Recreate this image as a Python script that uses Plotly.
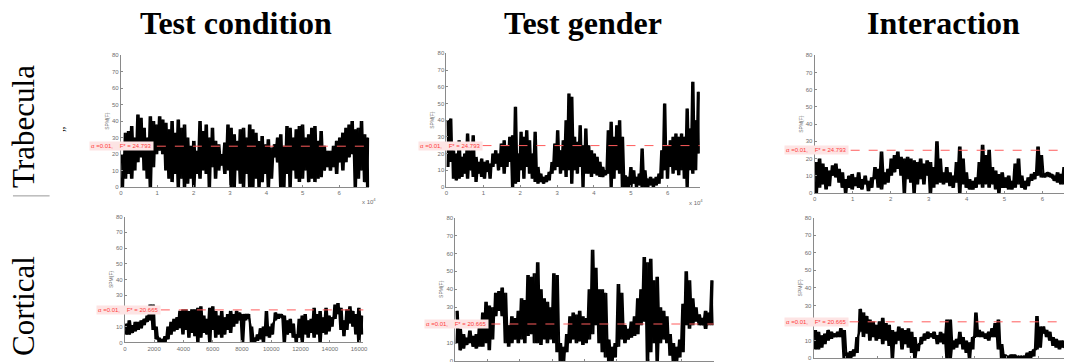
import numpy as np
import plotly.graph_objects as go

W, H = 1072, 362

# ---------------- data (envelope of SPM{F} traces) ----------------
COL_TITLES = ["Test condition", "Test gender", "Interaction"]
ROW_TITLES = ["Trabecula", "Cortical"]
FSTAR_TRAB = 24.793
FSTAR_CORT = 20.665
ALPHA_TEXT = "α =0.01,"

# Trabecula – Test condition (x up to 6.83e4 nodes)
P1_SPAN = 68300
P1_HI = [20, 33, 34, 37, 30, 44, 42, 36, 30, 43, 40, 38, 43, 41, 39, 35, 40, 33, 41, 36,
         38, 30, 25, 28, 22, 40, 34, 38, 30, 36, 28, 26, 20, 27, 38, 36, 32, 28, 35, 36,
         30, 38, 35, 33, 28, 31, 26, 29, 24, 26, 30, 32, 25, 37, 36, 30, 35, 37, 38, 30,
         32, 36, 37, 28, 34, 25, 22, 22, 25, 28, 30, 33, 36, 38, 40, 35, 36, 40, 32, 30]
P1_LO = [0, 5, 8, 5, 10, 15, 18, 10, 5, 0, 12, 20, 22, 20, 10, 5, 3, 8, 0, 5,
         0, 2, 5, 0, 8, 5, 10, 8, 0, 12, 5, 10, 13, 8, 10, 0, 0, 10, 2, 0,
         8, 0, 0, 5, 0, 3, 8, 0, 5, 18, 15, 0, 0, 8, 0, 10, 5, 3, 5, 10,
         3, 5, 3, 5, 6, 10, 12, 10, 12, 8, 15, 10, 15, 18, 20, 0, 5, 10, 3, 0]

# Trabecula – Test gender
P2_SPAN = 68700
P2_HI = [40, 41, 22, 20, 28, 18, 20, 32, 22, 31, 18, 15, 17, 15, 16, 14, 20, 22, 20, 26,
         28, 25, 30, 31, 48, 20, 33, 30, 34, 28, 20, 33, 12, 8, 6, 7, 9, 15, 26, 34,
         22, 28, 40, 56, 54, 30, 27, 37, 25, 35, 25, 22, 20, 18, 15, 12, 10, 34, 39, 30,
         37, 40, 30, 7, 6, 12, 10, 6, 8, 23, 10, 5, 6, 5, 6, 8, 22, 50, 25, 28,
         30, 32, 30, 32, 30, 47, 35, 63, 40, 57]
P2_LO = [12, 15, 5, 4, 5, 6, 8, 5, 10, 6, 3, 8, 6, 5, 9, 5, 12, 14, 10, 12,
         8, 12, 15, 0, 2, 3, 10, 5, 12, 8, 5, 3, 2, 3, 2, 3, 4, 8, 10, 12,
         8, 10, 6, 10, 2, 10, 8, 12, 0, 8, 8, 6, 8, 7, 6, 6, 7, 8, 0, 5,
         10, 8, 0, 0, 0, 0, 2, 0, 1, 0, 0, 0, 1, 0, 1, 2, 5, 10, 5, 12,
         8, 10, 7, 10, 5, 0, 10, 8, 10, 20]

# Trabecula – Interaction
P3_SPAN = 68700
P3_HI = [18, 20, 17, 15, 13, 16, 17, 14, 12, 8, 10, 11, 9, 12, 8, 10, 7, 9, 15, 14,
         24, 12, 14, 20, 22, 24, 21, 20, 21, 20, 19, 18, 20, 17, 19, 18, 15, 30, 20, 12,
         15, 12, 10, 18, 27, 20, 12, 8, 7, 9, 18, 28, 22, 25, 15, 13, 11, 12, 9, 10,
         7, 17, 20, 10, 7, 9, 11, 12, 27, 22, 11, 12, 11, 10, 12, 11, 15, 27, 22, 20]
P3_LO = [0, 3, 5, 2, 4, 10, 9, 6, 3, 0, 3, 2, 4, 3, 2, 5, 1, 3, 8, 3,
         2, 5, 6, 10, 12, 14, 10, 0, 8, 6, 0, 5, 8, 5, 10, 0, 3, 5, 6, 5,
         6, 4, 3, 6, 0, 5, 3, 2, 2, 3, 5, 3, 5, 3, 5, 2, 0, 3, 3, 2,
         2, 3, 5, 3, 2, 4, 7, 8, 10, 9, 9, 10, 9, 7, 6, 5, 5, 8, 10, 8]

# Cortical – Test condition
P4_SPAN = 16290
P4_HI = [12, 14, 11, 13, 13, 14, 15, 17, 24, 24, 10, 3, 2, 4, 10, 13, 15, 16, 20, 21,
         21, 20, 21, 21, 22, 23, 17, 15, 22, 23, 20, 17, 20, 16, 18, 20, 18, 20, 19, 18,
         18, 18, 10, 3, 5, 9, 10, 20, 10, 12, 19, 18, 18, 17, 14, 15, 12, 5, 15, 17,
         18, 14, 15, 22, 18, 20, 16, 22, 17, 16, 24, 25, 22, 14, 21, 23, 20, 18, 22, 17]
P4_LO = [5, 5, 6, 7, 8, 9, 11, 13, 14, 8, 2, 0, 0, 0, 2, 5, 7, 8, 9, 5,
         8, 3, 6, 4, 0, 3, 6, 5, 0, 8, 3, 5, 3, 5, 8, 6, 10, 12, 14, 0,
         14, 15, 0, 0, 1, 2, 0, 4, 3, 5, 14, 15, 16, 0, 5, 6, 3, 0, 3, 0,
         5, 3, 6, 3, 5, 0, 6, 5, 7, 10, 15, 18, 8, 4, 8, 12, 10, 5, 0, 5]

# Cortical – Test gender
P5_SPAN = 16000
P5_HI = [28, 18, 15, 13, 17, 14, 15, 20, 27, 33, 31, 30, 38, 39, 41, 38, 20, 25, 24, 28,
         35, 34, 48, 47, 49, 55, 40, 35, 33, 30, 49, 48, 10, 8, 15, 25, 27, 26, 28, 25,
         24, 40, 62, 52, 40, 40, 38, 12, 8, 10, 43, 38, 20, 18, 22, 25, 35, 40, 58, 55,
         57, 45, 47, 30, 28, 25, 15, 10, 8, 12, 32, 50, 45, 35, 30, 26, 24, 28, 27, 45]
P5_LO = [10, 6, 7, 9, 10, 8, 7, 8, 8, 10, 6, 12, 25, 28, 25, 10, 8, 10, 12, 10,
         12, 10, 14, 15, 10, 10, 9, 12, 10, 12, 10, 5, 0, 0, 5, 10, 12, 10, 11, 9,
         10, 12, 15, 20, 10, 5, 2, 0, 0, 2, 8, 12, 10, 12, 13, 14, 15, 20, 22, 0,
         5, 10, 0, 10, 12, 10, 3, 0, 0, 2, 5, 20, 18, 20, 22, 20, 20, 18, 20, 20]

# Cortical – Interaction
P6_SPAN = 16400
P6_HI = [16, 15, 13, 14, 16, 15, 14, 15, 17, 16, 3, 4, 5, 12, 28, 26, 24, 22, 21, 19,
         21, 23, 20, 19, 16, 15, 18, 17, 16, 17, 15, 12, 8, 12, 14, 15, 14, 15, 13, 15,
         14, 22, 22, 10, 11, 15, 12, 10, 9, 12, 26, 16, 15, 14, 15, 17, 20, 22, 8, 2,
         1, 2, 2, 1, 1, 1, 3, 4, 5, 24, 18, 18, 16, 15, 12, 11, 10, 10, 9, 11, 10, 9]
P6_LO = [5, 5, 6, 8, 10, 11, 12, 12, 12, 0, 0, 0, 1, 3, 15, 12, 14, 10, 12, 10,
         11, 8, 10, 7, 0, 8, 10, 5, 8, 6, 3, 0, 4, 8, 10, 11, 12, 11, 8, 9,
         8, 0, 0, 5, 6, 8, 5, 3, 0, 5, 12, 12, 12, 11, 10, 12, 12, 5, 0, 0,
         0, 0, 0, 0, 0, 0, 0, 0, 1, 5, 6, 14, 12, 10, 7, 6, 5, 6, 5, 4, 5, 5]

TOP_TICKVALS = [0, 10000, 20000, 30000, 40000, 50000, 60000]
TOP_TICKTEXT = ["0", "1", "2", "3", "4", "5", "6"]
BOT_TICKVALS = [0, 2000, 4000, 6000, 8000, 10000, 12000, 14000, 16000]
BOT_TICKTEXT = [str(v) for v in BOT_TICKVALS]
Y_TICKVALS = [0, 10, 20, 30, 40, 50, 60, 70, 80]

# ---------------- layout geometry (pixels) ----------------
def fx(p):
    return p / W

def fy(p):
    return 1 - p / H

panels = [
    dict(hi=P1_HI, lo=P1_LO, span=P1_SPAN, l=112, r=363, t=45, b=179, xmax=68300, top=True, f=FSTAR_TRAB, lab=80),
    dict(hi=P2_HI, lo=P2_LO, span=P2_SPAN, l=441, r=697, t=43, b=179, xmax=68700, top=True, f=FSTAR_TRAB, lab=412),
    dict(hi=P3_HI, lo=P3_LO, span=P3_SPAN, l=813, r=1072, t=45, b=185, xmax=67500, top=True, f=FSTAR_TRAB, lab=782),
    dict(hi=P4_HI, lo=P4_LO, span=P4_SPAN, l=116, r=357, t=209, b=337, xmax=16290, top=False, f=FSTAR_CORT, lab=87),
    dict(hi=P5_HI, lo=P5_LO, span=P5_SPAN, l=450, r=711, t=210, b=356, xmax=16000, top=False, f=FSTAR_CORT, lab=418),
    dict(hi=P6_HI, lo=P6_LO, span=P6_SPAN, l=812, r=1072, t=210, b=353, xmax=16018, top=False, f=FSTAR_CORT, lab=782),
]

fig = go.Figure()
AXC = "#8a8a8a"
TICKC = "#6e6e6e"

for k, p in enumerate(panels, start=1):
    n = len(p["hi"])
    hi = np.asarray(p["hi"], dtype=float)
    lo = np.asarray(p["lo"], dtype=float)
    xa_ = (np.arange(n) + 0.25) / n * p["span"]
    xb_ = (np.arange(n) + 0.75) / n * p["span"]
    xs = np.empty(2 * n)
    xs[0::2] = xa_
    xs[1::2] = xb_
    sfx = "" if k == 1 else str(k)
    # two interleaved zig-zags through the read envelope (hi/lo) give the dense look
    for first, second in ((hi, lo), (lo, hi)):
        ys = np.empty(2 * n)
        ys[0::2] = first
        ys[1::2] = second
        fig.add_trace(go.Scatter(x=xs, y=ys, mode="lines", line=dict(color="black", width=2),
                                 xaxis="x" + sfx, yaxis="y" + sfx, hoverinfo="skip"))
    xa = dict(domain=[fx(p["l"]), fx(p["r"])], range=[0, p["xmax"]], anchor="y" + sfx,
              showline=True, linecolor=AXC, linewidth=1, ticks="inside", ticklen=2, tickcolor=AXC,
              tickfont=dict(size=6, color=TICKC, family="Arial"), showgrid=False, zeroline=False,
              tickvals=TOP_TICKVALS if p["top"] else BOT_TICKVALS,
              ticktext=TOP_TICKTEXT if p["top"] else BOT_TICKTEXT)
    ya = dict(domain=[fy(p["b"]), fy(p["t"])], range=[0, 80], anchor="x" + sfx,
              showline=True, linecolor=AXC, linewidth=1, ticks="inside", ticklen=2, tickcolor=AXC,
              tickfont=dict(size=6, color=TICKC, family="Arial"), showgrid=False, zeroline=False,
              tickvals=Y_TICKVALS,
              title=dict(text="SPM{F}", font=dict(size=5, color=TICKC, family="Arial"), standoff=2))
    fig.update_layout(**{"xaxis" + sfx: xa, "yaxis" + sfx: ya})
    fig.add_shape(type="line", xref="x" + sfx, yref="y" + sfx, x0=0, x1=p["xmax"] * 1.01,
                  y0=p["f"], y1=p["f"], line=dict(color="#ff5c5c", width=1, dash="dash"), layer="above")
    fig.add_annotation(xref="paper", yref="y" + sfx, x=fx(p["lab"]), y=p["f"], xanchor="left",
                       yanchor="middle", showarrow=False,
                       text=ALPHA_TEXT + "\u00a0\u00a0\u00a0\u00a0F* = %.3f" % p["f"],
                       font=dict(size=6, color="#ff3b3b", family="Arial"), bgcolor="#fde4e4",
                       borderpad=1)

for px_x, px_y in [(354, 193), (684, 194), (1063, 200)]:
    fig.add_annotation(xref="paper", yref="paper", x=fx(px_x), y=fy(px_y), xanchor="left",
                       yanchor="middle", showarrow=False, text="x 10<sup>4</sup>",
                       font=dict(size=6, color=TICKC, family="Arial"))

for txt, cx in zip(COL_TITLES, [228, 579, 943]):
    fig.add_annotation(xref="paper", yref="paper", x=fx(cx), y=fy(12), xanchor="center",
                       yanchor="middle", showarrow=False, text="<b>%s</b>" % txt,
                       font=dict(size=32, color="black", family="Liberation Serif"))

for txt, cy in zip(ROW_TITLES, [117, 300]):
    fig.add_annotation(xref="paper", yref="paper", x=fx(13), y=fy(cy), xanchor="center",
                       yanchor="middle", showarrow=False, text=txt, textangle=-90,
                       font=dict(size=31, color="black", family="Liberation Serif"))

fig.add_shape(type="line", xref="paper", yref="paper", x0=fx(3), x1=fx(40), y0=fy(188), y1=fy(188),
              line=dict(color="#999999", width=1))
fig.add_annotation(xref="paper", yref="paper", x=fx(48), y=fy(116), showarrow=False, text="\u201d",
                   textangle=-90, font=dict(size=12, color="black", family="Liberation Serif"))

fig.update_layout(width=W, height=H, margin=dict(l=0, r=0, t=0, b=0), paper_bgcolor="white",
                  plot_bgcolor="white", showlegend=False)

fig.write_html("out.html")
